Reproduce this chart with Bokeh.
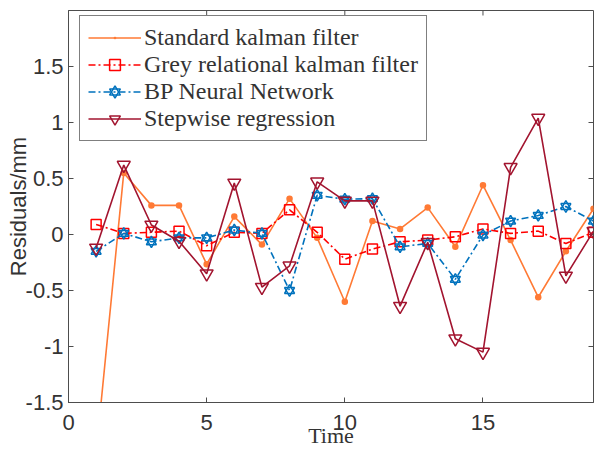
import math
from bokeh.plotting import figure
from bokeh.models import (Range1d, Legend, LegendItem, FixedTicker,
                          CustomJSTickFormatter)
from bokeh.embed import file_html
from bokeh.resources import INLINE

# ---- data ----
time = [1, 2, 3, 4, 5, 6, 7, 8, 9, 10, 11, 12, 13, 14, 15, 16, 17, 18, 19]
standard_kf = [-1.95, 0.55, 0.26, 0.26, -0.265, 0.16, -0.09, 0.32, -0.03, -0.60,
               0.12, 0.05, 0.24, -0.11, 0.44, -0.05, -0.56, -0.15, 0.23]
grey_kf = [0.09, 0.01, 0.02, 0.03, -0.10, 0.02, 0.01, 0.22, 0.02, -0.22,
           -0.13, -0.065, -0.05, -0.02, 0.05, 0.01, 0.03, -0.08, 0.02]
bp_nn = [-0.15, 0.01, -0.065, -0.03, -0.03, 0.04, 0.01, -0.50, 0.35, 0.315,
         0.32, -0.11, -0.08, -0.40, -0.005, 0.12, 0.17, 0.25, 0.12]
stepwise = [-0.12, 0.62, 0.085, -0.06, -0.35, 0.46, -0.47, -0.28, 0.47, 0.30,
            0.30, -0.64, -0.07, -0.93, -1.05, 0.60, 1.04, -0.37, 0.03]
labels = ["Standard kalman filter", "Grey relational kalman filter",
          "BP Neural Network", "Stepwise regression"]
x_ticks = [0, 5, 10, 15]
y_ticks = [-1.5, -1, -0.5, 0, 0.5, 1, 1.5]
x_lim = (0, 19)
y_lim = (-1.5, 2.0)

c_orange = "#FF7A35"
c_red = "#FF0000"
c_blue = "#0072BD"
c_purple = "#A2142F"
axis_col = "#4D4D4D"
text_col = "#333333"

p = figure(width=594, height=450, output_backend="svg", toolbar_location=None,
           x_range=Range1d(*x_lim), y_range=Range1d(*y_lim),
           min_border_left=68, min_border_right=1, min_border_top=10,
           min_border_bottom=48, background_fill_color="white",
           border_fill_color="white")
p.grid.visible = False
p.outline_line_color = axis_col
p.outline_line_width = 1

fmt = CustomJSTickFormatter(code="return tick.toString()")
for ax in (p.xaxis[0], p.yaxis[0]):
    ax.axis_line_color = axis_col
    ax.major_tick_line_color = axis_col
    ax.major_tick_in = 5
    ax.major_tick_out = 0
    ax.minor_tick_line_color = None
    ax.major_label_text_font = "Liberation Sans"
    ax.major_label_text_font_size = "22px"
    ax.major_label_text_color = text_col
    ax.formatter = fmt
p.xaxis[0].ticker = FixedTicker(ticks=x_ticks)
p.yaxis[0].ticker = FixedTicker(ticks=y_ticks)
p.xaxis[0].major_label_standoff = 12
p.yaxis[0].major_label_standoff = 5

p.xaxis[0].axis_label = "Time"
p.xaxis[0].axis_label_text_font = "Liberation Serif"
p.xaxis[0].axis_label_text_font_size = "22px"
p.xaxis[0].axis_label_text_font_style = "normal"
p.xaxis[0].axis_label_text_color = text_col
p.xaxis[0].axis_label_standoff = -10

p.yaxis[0].axis_label = "Residuals/mm"
p.yaxis[0].axis_label_text_font = "Liberation Sans"
p.yaxis[0].axis_label_text_font_size = "22px"
p.yaxis[0].axis_label_text_font_style = "normal"
p.yaxis[0].axis_label_text_color = text_col
p.yaxis[0].axis_label_standoff = -8

# ticks on top and right edges of the box (half of each dash is clipped away)
p.scatter(x_ticks, [y_lim[1]] * len(x_ticks), marker="dash", size=10,
          angle=math.pi / 2, line_color=axis_col, line_width=1)
p.scatter([x_lim[1]] * len(y_ticks), y_ticks, marker="dash", size=10,
          line_color=axis_col, line_width=1)

# ---- series ----
l1 = p.line(time, standard_kf, line_color=c_orange, line_width=1.6)
m1 = p.scatter(time, standard_kf, marker="dot", size=26,
               line_color=c_orange, fill_color=c_orange, line_width=2)

l2 = p.line(time, grey_kf, line_color=c_red, line_width=1.6, line_dash="7 3 2 3")
m2 = p.scatter(time, grey_kf, marker="square", size=10, line_color=c_red,
               fill_color=None, line_width=1.5)

l3 = p.line(time, bp_nn, line_color=c_blue, line_width=1.6, line_dash="7 3 2 3")
m3a = p.scatter(time, bp_nn, marker="triangle", size=10, line_color=c_blue,
                fill_color=None, line_width=1.5)
m3b = p.scatter(time, bp_nn, marker="inverted_triangle", size=10, line_color=c_blue,
                fill_color=None, line_width=1.5)

l4 = p.line(time, stepwise, line_color=c_purple, line_width=1.6)
m4 = p.scatter(time, stepwise, marker="inverted_triangle", size=13,
               line_color=c_purple, fill_color=None, line_width=1.5)

legend = Legend(items=[
    LegendItem(label=labels[0], renderers=[l1, m1]),
    LegendItem(label=labels[1], renderers=[l2, m2]),
    LegendItem(label=labels[2], renderers=[l3, m3a, m3b]),
    LegendItem(label=labels[3], renderers=[l4, m4]),
], location=(11, 261), margin=0)
legend.label_text_font = "Liberation Serif"
legend.label_text_font_size = "24px"
legend.label_text_color = text_col
legend.glyph_width = 53
legend.glyph_height = 27
legend.label_height = 27
legend.label_standoff = 3
legend.spacing = 0
legend.padding = 8
legend.border_line_color = "black"
legend.border_line_width = 1
legend.background_fill_color = "white"
legend.background_fill_alpha = 1.0
p.add_layout(legend, "center")

open("out.html", "w").write(file_html(p, INLINE))
